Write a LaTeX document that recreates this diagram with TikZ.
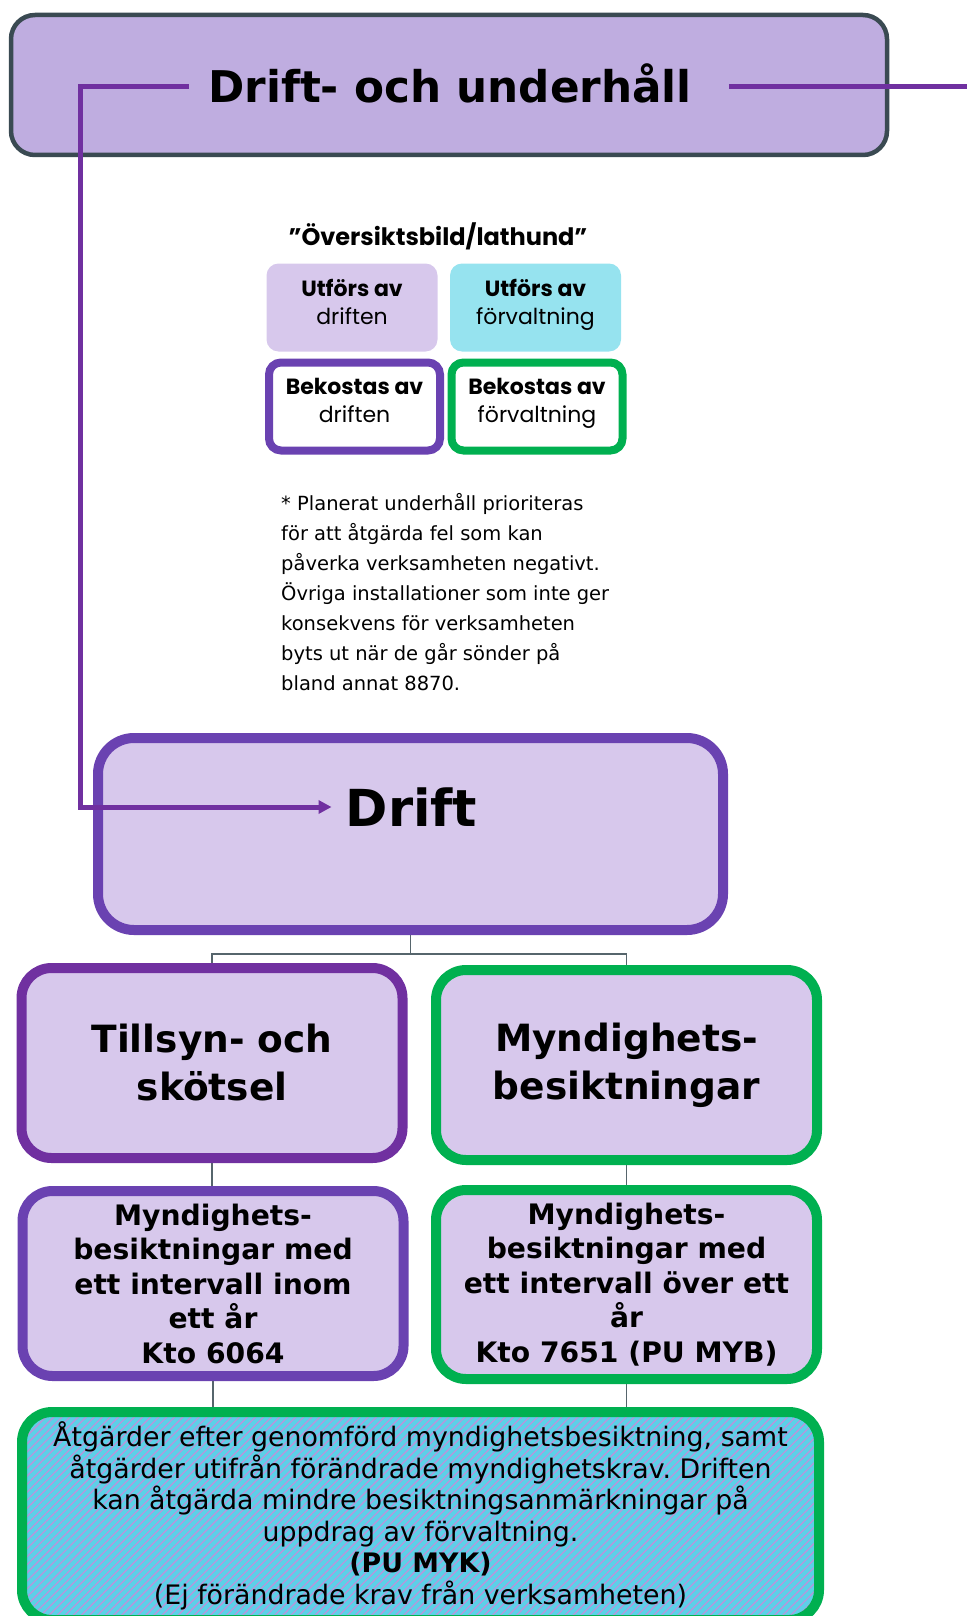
\documentclass[tikz,border=0pt]{standalone}
\usepackage{fontspec}
\setmainfont{DejaVu Sans}
\newfontfamily\legendfont{Poppins}
\frenchspacing
\usetikzlibrary{arrows.meta,patterns.meta,backgrounds}
\definecolor{paleviolet}{HTML}{D7C8EC}
\definecolor{lilac}{HTML}{BFADE0}
\definecolor{slategrey}{HTML}{3A4A52}
\definecolor{violet}{HTML}{6A42B1}
\definecolor{plum}{HTML}{7030A0}
\definecolor{leaf}{HTML}{00B050}
\definecolor{aqua}{HTML}{96E3EF}
\definecolor{aquadeep}{HTML}{5CD0E8}
\definecolor{stripe}{HTML}{B995DB}
\definecolor{slate}{HTML}{56656C}
\newcommand{\lift}{\rule[-12pt]{0pt}{0pt}}
\begin{document}
\begin{tikzpicture}[x=1pt,y=-1pt,>={Triangle[length=13pt,width=13pt]},
  every node/.style={align=center,inner sep=0pt,text=black},
  card/.style={rectangle,rounded corners=30pt,line width=10pt,minimum width=381pt},
  drv/.style={card,draw=#1,fill=paleviolet},
  key/.style={rounded corners=12pt,minimum width=171pt,minimum height=88pt,font=\legendfont\fontsize{22}{28}\selectfont},
  big/.style={font=\fontsize{37.5}{48}\selectfont\bfseries},
  mid/.style={font=\fontsize{28.2}{34.5}\selectfont\bfseries},
  link/.style={draw=slate,line width=1.3pt},
  flow/.style={draw=plum,line width=5pt}]
\useasboundingbox (0,0) rectangle (967,1616);
% banner
\node[draw=slategrey,line width=4.5pt,fill=lilac,rounded corners=24pt,minimum width=876pt,minimum height=140pt] (dou) at (449,85) {};
\node[font=\fontsize{43.7}{50}\selectfont\bfseries,inner xsep=19pt] (doutxt) at (450,83) {Drift- och underhåll};
% legend
\node[font=\legendfont\fontsize{24}{28}\selectfont\bfseries] (lat) at (438,236) {”Översiktsbild/lathund”};
\node[key,fill=paleviolet] (utd) at (352,307.5) {\textbf{Utförs av}\\driften\lift};
\node[key,fill=aqua] (utf) at (535.5,307.5) {\textbf{Utförs av}\\förvaltning\lift};
\node[key,draw=violet,line width=8pt] (bekd) at (354.5,406.5) {\textbf{Bekostas av}\\driften\lift};
\node[key,draw=leaf,line width=8pt] (bekf) at (537,406.5) {\textbf{Bekostas av}\\förvaltning\lift};
\node[anchor=north west,align=left,font=\fontsize{19.5}{30}\selectfont] (note) at (281,493)
  {* Planerat underhåll prioriteras\\för att åtgärda fel som kan\\påverka verksamheten negativt.\\Övriga installationer som inte ger\\konsekvens för verksamheten\\byts ut när de går sönder på\\bland annat 8870.};
% tree
\node[drv=violet,minimum width=625pt,minimum height=192pt,rounded corners=36pt] (drift) at (410.5,834) {};
\node[font=\fontsize{51}{60}\selectfont\bfseries,inner xsep=14pt] (drifttxt) at (411.5,807) {Drift};
\node[drv=plum,big,minimum height=190pt] (tillsyn) at (212,1063) {Tillsyn- och\\skötsel};
\node[drv=leaf,big,minimum height=190pt] (mynd) at (626.5,1065) {Myndighets-\\besiktningar};
\node[drv=violet,mid,minimum height=185pt] (inom) at (213,1283.5) {Myndighets-\\besiktningar med\\ett intervall inom\\ett år\\Kto 6064};
\node[drv=leaf,mid,minimum height=189pt] (over) at (626.5,1284.5) {Myndighets-\\besiktningar med\\ett intervall över ett\\år\\Kto 7651 (PU MYB)};
\node[card,draw=leaf,minimum width=797pt,minimum height=208pt,preaction={fill=aquadeep},
  pattern={Lines[angle=45,distance=5.7pt,line width=1.3pt]},pattern color=stripe,
  font=\fontsize{26.8}{31.5}\selectfont] (atg) at (420.5,1516)
  {Åtgärder efter genomförd myndighetsbesiktning, samt\\åtgärder utifrån förändrade myndighetskrav. Driften\\kan åtgärda mindre besiktningsanmärkningar på\\uppdrag av förvaltning.\\\textbf{(PU MYK)}\\(Ej förändrade krav från verksamheten)};
\begin{scope}[on background layer]
\draw[link] (drift.south) -- ++(0,19) coordinate (fork) -| (tillsyn.north);
\draw[link] (fork) -| (mynd.north);
\draw[link] (tillsyn.south) -- (tillsyn.south |- inom.north);
\draw[link] (mynd.south) -- (mynd.south |- over.north);
\draw[link] (inom.south) -- (inom.south |- atg.north);
\draw[link] (over.south) -- (over.south |- atg.north);
\end{scope}
% flow line
\coordinate (edge) at (967,87);
\coordinate (bend) at (80,807);
\draw[flow] ([xshift=18pt]doutxt.east |- edge) -- (edge);
\draw[flow,->] (doutxt.west |- edge) -| (bend) -- (bend -| drifttxt.west);
\end{tikzpicture}
\end{document}
